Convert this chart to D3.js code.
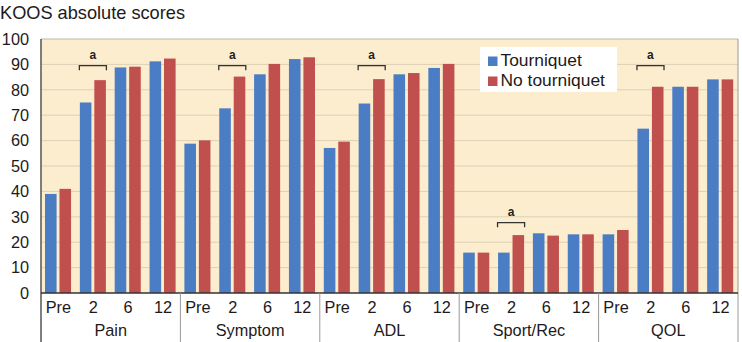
<!DOCTYPE html>
<html>
<head>
<meta charset="utf-8">
<script src="https://cdn.jsdelivr.net/npm/d3@7"></script>
<style>
  body { margin: 0; background: #fff; }
  svg { display: block; font-family: "Liberation Sans", Arial, sans-serif; }
</style>
</head>
<body>
<svg id="chart" width="742" height="342"></svg>
<script>
// data
const domains = ["Pain", "Symptom", "ADL", "Sport/Rec", "QOL"];
const times = ["Pre", "2", "6", "12"];
const seriesNames = ["Tourniquet", "No tourniquet"];
const tourniquet = [
    39, 75, 88.8, 91.2,
    58.8, 72.7, 86.1, 92.1,
    57.1, 74.6, 86.1, 88.6,
    15.9, 15.9, 23.5, 23.1,
    23.1, 64.7, 81.2, 84.1
];
const noTourniquet = [
    41, 83.8, 89.1, 92.3,
    60.1, 85.2, 90.2, 92.8,
    59.6, 84.2, 86.6, 90.2,
    15.9, 22.8, 22.6, 23.1,
    24.8, 81.2, 81.2, 84.1
];
// significance brackets: which domain (at the "2" time point) and bracket level
const bracketDomains = ["Pain", "Symptom", "ADL", "Sport/Rec", "QOL"];
const bracketLevels = [89.5, 89.5, 89.5, 27.7, 89.5];
const yTicks = [0, 10, 20, 30, 40, 50, 60, 70, 80, 90, 100];

const colors = { "Tourniquet": "#4a7dc3", "No tourniquet": "#c0504d" };

const svg = d3.select("#chart");
const plot = { left: 41, right: 738, top: 39, bottom: 293 };

// flatten into one row per slot
const rows = [];
domains.forEach((dom, i) => {
    times.forEach((t, j) => {
        const k = i * times.length + j;
        rows.push({ key: dom + "|" + t, domain: dom, time: t, values: [tourniquet[k], noTourniquet[k]] });
    });
});

const x = d3.scaleBand()
    .domain(rows.map(d => d.key))
    .range([plot.left, plot.right]);

const xInner = d3.scaleBand()
    .domain(seriesNames)
    .range([4, x.bandwidth() - 4.8])
    .paddingInner(0.2);

const y = d3.scaleLinear()
    .domain([0, 100])
    .range([plot.bottom, plot.top]);

// title
svg.append("text")
    .attr("x", 0)
    .attr("y", 19)
    .style("font-size", "18.2px")
    .style("fill", "#1e1a1b")
    .text("KOOS absolute scores");

// plot background
svg.append("rect")
    .attr("x", plot.left)
    .attr("y", plot.top)
    .attr("width", plot.right - plot.left)
    .attr("height", plot.bottom - plot.top)
    .style("fill", "#fdedcf");

// gridlines
svg.append("g")
    .selectAll("line")
    .data(yTicks.filter(d => d > 0))
    .enter().append("line")
    .attr("x1", plot.left)
    .attr("x2", plot.right)
    .attr("y1", d => y(d))
    .attr("y2", d => y(d))
    .style("stroke", d => d === 100 ? "#bdb6aa" : "#ddd0b6")
    .style("stroke-width", 1);

// bars
const slot = svg.append("g")
    .selectAll("g")
    .data(rows)
    .enter().append("g")
    .attr("transform", d => `translate(${x(d.key)},0)`);

slot.selectAll("rect")
    .data(d => d.values.map((v, i) => ({ series: seriesNames[i], value: v })))
    .enter().append("rect")
    .attr("x", d => xInner(d.series))
    .attr("width", xInner.bandwidth())
    .attr("y", d => y(d.value))
    .attr("height", d => y(0) - y(d.value))
    .style("fill", d => colors[d.series]);

// y axis labels
svg.append("g")
    .selectAll("text")
    .data(yTicks)
    .enter().append("text")
    .attr("x", 29)
    .attr("y", d => y(d) + 5.8)
    .attr("text-anchor", "end")
    .style("font-size", "16.3px")
    .style("fill", "#1e1a1b")
    .text(d => d);

// axis lines
svg.append("line")
    .attr("x1", plot.left).attr("x2", plot.left)
    .attr("y1", plot.top).attr("y2", 342)
    .style("stroke", "#555").style("stroke-width", 1.5);
svg.append("line")
    .attr("x1", plot.right).attr("x2", plot.right)
    .attr("y1", plot.top).attr("y2", 342)
    .style("stroke", "#999").style("stroke-width", 1);
svg.append("line")
    .attr("x1", plot.left).attr("x2", plot.right)
    .attr("y1", plot.bottom).attr("y2", plot.bottom)
    .style("stroke", "#333").style("stroke-width", 1.5);

// group separators
svg.append("g")
    .selectAll("line")
    .data(domains.slice(1))
    .enter().append("line")
    .attr("x1", d => x(d + "|Pre"))
    .attr("x2", d => x(d + "|Pre"))
    .attr("y1", plot.bottom)
    .attr("y2", 342)
    .style("stroke", "#999").style("stroke-width", 1);

// time labels
svg.append("g")
    .selectAll("text")
    .data(rows)
    .enter().append("text")
    .attr("x", d => x(d.key) + x.bandwidth() / 2)
    .attr("y", 313)
    .attr("text-anchor", "middle")
    .style("font-size", "16.3px")
    .style("fill", "#1e1a1b")
    .text(d => d.time);

// domain labels
svg.append("g")
    .selectAll("text")
    .data(domains)
    .enter().append("text")
    .attr("x", d => x(d + "|Pre") + x.bandwidth() * times.length / 2)
    .attr("y", 336)
    .attr("text-anchor", "middle")
    .style("font-size", "16.3px")
    .style("fill", "#1e1a1b")
    .text(d => d);

// significance brackets
const br = svg.append("g")
    .selectAll("g")
    .data(bracketDomains.map((d, i) => ({ domain: d, level: bracketLevels[i] })))
    .enter().append("g")
    .attr("transform", d => `translate(${x(d.domain + "|2")},${y(d.level)})`);

br.append("path")
    .attr("d", () => {
        const x0 = xInner("Tourniquet") - 0.5;
        const x1 = xInner("No tourniquet") + xInner.bandwidth() + 0.5;
        return `M${x0},4.5V0H${x1}V4.5`;
    })
    .style("fill", "none")
    .style("stroke", "#333")
    .style("stroke-width", 1.3);

br.append("text")
    .attr("x", (xInner("Tourniquet") + xInner("No tourniquet") + xInner.bandwidth()) / 2)
    .attr("y", -6.5)
    .attr("text-anchor", "middle")
    .style("font-size", "12px")
    .style("font-weight", "bold")
    .style("fill", "#231f20")
    .text("a");

// legend
const legend = svg.append("g").attr("transform", "translate(480,47)");
legend.append("rect")
    .attr("width", 137)
    .attr("height", 45)
    .style("fill", "#fff");

const item = legend.selectAll(".item")
    .data(seriesNames)
    .enter().append("g")
    .attr("class", "item")
    .attr("transform", (d, i) => `translate(8,${10 + i * 20})`);

item.append("rect")
    .attr("width", 9.5)
    .attr("height", 9.5)
    .attr("y", -0.5)
    .style("fill", d => colors[d]);

item.append("text")
    .attr("x", 12.5)
    .attr("y", 9)
    .style("font-size", "17.4px")
    .style("fill", "#1e1a1b")
    .text(d => d);
</script>
</body>
</html>
